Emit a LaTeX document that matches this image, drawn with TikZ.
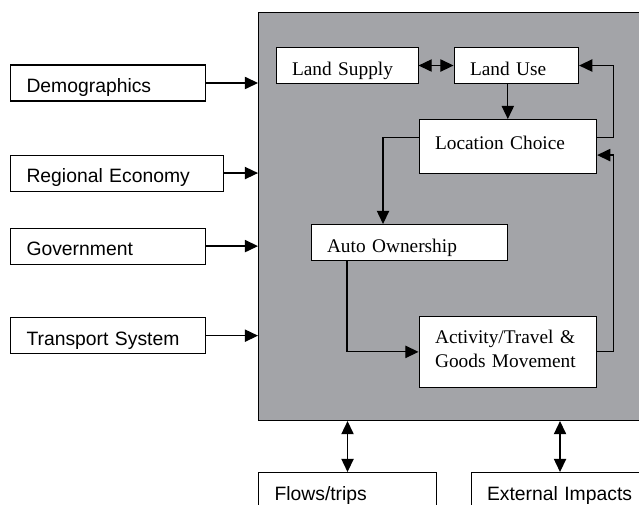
\documentclass[tikz,border=0pt]{standalone}
\usepackage{fontspec}
\setmainfont{Liberation Serif}
\setsansfont{Liberation Sans}
\usetikzlibrary{positioning, arrows.meta}
\definecolor{modelgray}{RGB}{163,164,168}
\tikzset{
  extbox/.style={draw, line width=0.6pt, fill=white, text width=#1, align=left,
    inner xsep=0.32cm, inner ysep=0pt, text height=0.55cm, text depth=0.17cm,
    font=\sffamily\fontsize{11}{13}\selectfont},
  subbox/.style={draw, line width=0.6pt, fill=white, text width=#1, align=left,
    inner xsep=0.32cm, inner ysep=0pt, text height=0.56cm, text depth=0.16cm,
    font=\rmfamily\fontsize{11}{14}\selectfont},
  modelbox/.style={draw, line width=0.6pt, fill=modelgray, inner sep=0pt}
}

\begin{document}
\begin{tikzpicture}[node distance=0.7cm, >={Triangle[length=7.5pt, width=7pt]}, line width=0.7pt]
\useasboundingbox (0,0) rectangle (12.78,10.10);
% nodes %
\node[modelbox, minimum width=7.64cm, minimum height=8.16cm, anchor=north west] (model) at (5.16,9.86) {};
\node[extbox=3.26cm, anchor=west] (dem) at (0.2,8.44) {Demographics};
\node[extbox=3.62cm, below right=1.06cm and 0cm of dem.south west] (reg) {Regional Economy};
\node[extbox=3.26cm, below right=0.72cm and 0cm of reg.south west] (gov) {Government};
\node[extbox=3.26cm, below right=1.05cm and 0cm of gov.south west] (trans) {Transport System};
\node[subbox=2.20cm, anchor=north west] (ls) at (5.51,9.16) {Land Supply};
\node[subbox=1.85cm, right=of ls] (lu) {Land Use};
\node[subbox=2.91cm, below right=0.7cm and 0cm of ls.south east, text height=0.6cm, text depth=0.47cm] (lc) {Location Choice};
\node[subbox=3.28cm, anchor=north west] (ao) at (6.21,5.62) {Auto Ownership};
\node[subbox=2.91cm, below right=2.84cm and 0cm of lc.south west, text height=0.54cm, text depth=0.89cm] (act) {Activity/Travel \&\\Goods Movement};
\node[extbox=2.92cm, anchor=north west, text height=0.56cm, text depth=0.24cm] (flows) at (5.16,0.66) {Flows/trips};
\node[extbox=2.92cm, anchor=north west, text height=0.56cm, text depth=0.24cm] (ext) at (9.41,0.66) {External Impacts};
% edges %
\draw[->] (dem.east) -- (dem.east -| model.west);
\draw[->] (reg.east) -- (reg.east -| model.west);
\draw[->] (gov.east) -- (gov.east -| model.west);
\draw[->] (trans.east) -- (trans.east -| model.west);
\draw[<->] (ls) -- (lu);
\draw[->] (lu.south -| lc.north) -- (lc.north);
\draw[->] ([yshift=0.175cm]lc.west) -| ([xshift=-0.52cm]ao.north);
\draw[->] ([yshift=0.175cm]lc.east) -- ++(0.33,0) |- (lu.east);
\draw[->] (act.east) -- ++(0.33,0) |- ([yshift=-0.175cm]lc.east);
\draw[->] ([xshift=-1.24cm]ao.south) |- (act.west);
\draw[<->] (model.south -| flows.north) -- (flows.north);
\draw[<->] (model.south -| ext.north) -- (ext.north);
\end{tikzpicture}
\end{document}
